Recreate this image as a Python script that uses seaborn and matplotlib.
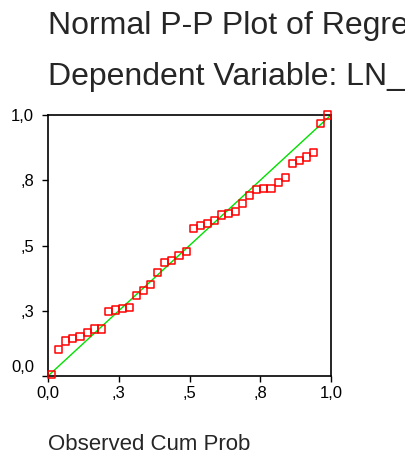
import pandas as pd
import matplotlib.pyplot as plt
import matplotlib.transforms as mtransforms
import seaborn as sns

# Giá trị: xác suất tích lũy quan sát / kỳ vọng
observed = [0.013, 0.038, 0.063, 0.088, 0.113, 0.138, 0.163, 0.188, 0.213, 0.238,
            0.263, 0.288, 0.313, 0.338, 0.363, 0.388, 0.413, 0.438, 0.463, 0.488,
            0.513, 0.538, 0.563, 0.588, 0.613, 0.638, 0.663, 0.688, 0.713, 0.738,
            0.763, 0.788, 0.813, 0.838, 0.863, 0.888, 0.913, 0.938, 0.963, 0.988]
expected = [0.004, 0.103, 0.134, 0.143, 0.152, 0.166, 0.180, 0.180, 0.248, 0.253,
            0.258, 0.263, 0.307, 0.326, 0.350, 0.397, 0.436, 0.441, 0.461, 0.478,
            0.565, 0.575, 0.584, 0.596, 0.617, 0.624, 0.632, 0.662, 0.690, 0.713,
            0.719, 0.719, 0.742, 0.761, 0.814, 0.825, 0.839, 0.857, 0.966, 1.000]
ref_line = [0.0, 1.0]
tick_values = [0.0, 0.25, 0.5, 0.75, 1.0]
tick_labels = ['0,0', ',3', ',5', ',8', '1,0']

data = pd.DataFrame({'Observed': observed, 'Expected': expected})
line = pd.DataFrame({'x': ref_line, 'y': ref_line})

sns.set_style('ticks')
plt.rcParams['font.family'] = ['Liberation Sans', 'DejaVu Sans']

fig = plt.figure(figsize=(4.05, 4.55), dpi=100)
ax = fig.add_axes([48 / 405, 79 / 455, 283 / 405, 261 / 455])

# Đường chéo tham chiếu
sns.lineplot(data=line, x='x', y='y', color='#00e000', linewidth=1.0, ax=ax)

# Các điểm P-P
sns.scatterplot(data=data, x='Observed', y='Expected', marker='s', s=26,
                facecolor='none', edgecolor='red', linewidth=1.1,
                clip_on=False, zorder=3, ax=ax)

ax.set_xlim(0, 1)
ax.set_ylim(0, 1)
ax.set_xticks(tick_values)
ax.set_xticklabels(tick_labels)
ax.set_yticks(tick_values)
ax.set_yticklabels(tick_labels)
ax.set_xlabel('')
ax.set_ylabel('')
ax.tick_params(axis='both', direction='out', length=4, width=1, color='black',
               labelsize=12, labelcolor='black')
ax.tick_params(axis='x', pad=3)
ax.tick_params(axis='y', pad=6)
for side in ['top', 'right', 'bottom', 'left']:
    ax.spines[side].set_visible(True)
    ax.spines[side].set_color('black')
    ax.spines[side].set_linewidth(1.2)

# Nhãn "0,0" trục y hơi dịch lên
lbl = ax.get_yticklabels()[0]
lbl.set_transform(lbl.get_transform() + mtransforms.ScaledTranslation(0, 7 / 72, fig.dpi_scale_trans))

# Tiêu đề (bị cắt ở mép phải như hình gốc)
fig.text(48 / 405, 1 - 34 / 455, 'Normal P-P Plot of Regression Standardized Residual',
         fontsize=23, ha='left', va='baseline')
fig.text(48 / 405, 1 - 85 / 455, 'Dependent Variable: LN_',
         fontsize=23, ha='left', va='baseline')
fig.text(48 / 405, 1 - 450 / 455, 'Observed Cum Prob',
         fontsize=16, ha='left', va='baseline')

fig.savefig('out.png', dpi=100)
